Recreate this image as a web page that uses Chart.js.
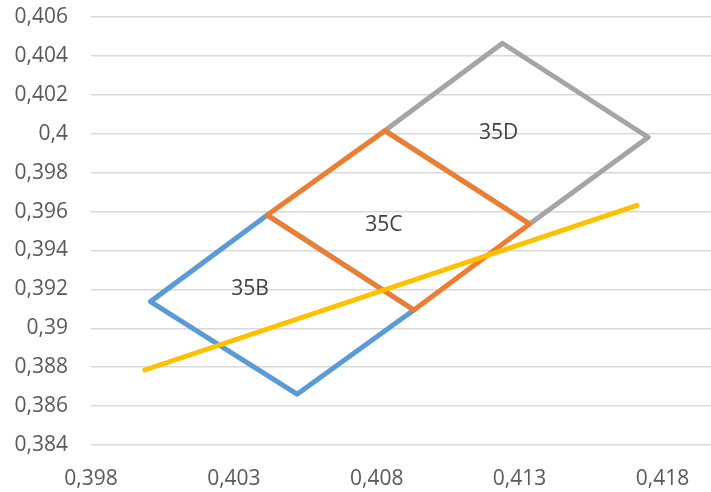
<!DOCTYPE html>
<html>
<head>
<meta charset="utf-8">
<script src="https://cdn.jsdelivr.net/npm/chart.js@4/dist/chart.umd.min.js"></script>
<style>
html,body{margin:0;padding:0;background:#fff;}
#wrap{width:711px;height:492px;position:relative;}
</style>
</head>
<body>
<div id="wrap"><canvas id="c" width="711" height="492"></canvas></div>
<script>
// Data
const seriesNames = ['35B', '35C', '35D', 'Trend'];
const x35B = [0.40417, 0.40008, 0.40521, 0.4093, 0.40417];
const y35B = [0.39582, 0.39137, 0.38661, 0.39094, 0.39582];
const x35C = [0.40417, 0.40829, 0.41335, 0.4093, 0.40417];
const y35C = [0.39582, 0.40016, 0.39536, 0.39094, 0.39582];
const x35D = [0.40829, 0.4124, 0.4175, 0.41335, 0.40829];
const y35D = [0.40016, 0.40465, 0.39982, 0.39536, 0.40016];
const xTrend = [0.39988, 0.41711];
const yTrend = [0.387855, 0.39632];
const labelText = ['35B', '35C', '35D'];
const labelX = [0.40357, 0.40825, 0.41227];
const labelY = [0.39202, 0.39531, 0.40002];
const xTicks = [0.398, 0.403, 0.408, 0.413, 0.418];
const yTicks = [0.384, 0.386, 0.388, 0.39, 0.392, 0.394, 0.396, 0.398, 0.4, 0.402, 0.404, 0.406];

const pts = (xs, ys) => xs.map((x, i) => ({x: x, y: ys[i]}));
const fmt = v => Number(v.toFixed(3)).toString().replace('.', ',');

const labelPlugin = {
  id: 'diamondLabels',
  afterDatasetsDraw(chart) {
    const {ctx, scales} = chart;
    ctx.save();
    ctx.font = '21px "Open Sans"';
    ctx.fillStyle = '#404040';
    ctx.textAlign = 'center';
    ctx.textBaseline = 'middle';
    labelText.forEach((t, i) => {
      ctx.fillText(t, scales.x.getPixelForValue(labelX[i]), scales.y.getPixelForValue(labelY[i]));
    });
    ctx.restore();
  }
};

const lineDs = (label, data, color, order) => ({
  label, data, borderColor: color, backgroundColor: color,
  borderWidth: 5, pointRadius: 0, showLine: true, fill: false,
  borderJoinStyle: 'round', borderCapStyle: 'round', tension: 0, order
});

new Chart(document.getElementById('c'), {
  type: 'scatter',
  data: {
    datasets: [
      lineDs(seriesNames[3], pts(xTrend, yTrend), '#FFC000', 0),
      lineDs(seriesNames[1], pts(x35C, y35C), '#ED7D31', 1),
      lineDs(seriesNames[0], pts(x35B, y35B), '#5B9BD5', 2),
      lineDs(seriesNames[2], pts(x35D, y35D), '#A5A5A5', 3)
    ]
  },
  options: {
    responsive: false,
    animation: false,
    layout: {padding: {top: 0, right: 0, bottom: 0, left: 0}},
    plugins: {legend: {display: false}, tooltip: {enabled: false}},
    scales: {
      x: {
        type: 'linear', min: 0.398, max: 0.4197,
        afterBuildTicks: a => { a.ticks = xTicks.map(v => ({value: v})); },
        afterFit: a => { a.height = 47; a.paddingLeft = 0; a.paddingRight = 0; },
        grid: {display: false, drawTicks: false},
        border: {display: false},
        ticks: {callback: v => fmt(v), font: {family: 'Open Sans', size: 21}, color: '#595959', padding: 21, maxRotation: 0, autoSkip: false}
      },
      y: {
        type: 'linear', min: 0.384, max: 0.406,
        afterBuildTicks: a => { a.ticks = yTicks.map(v => ({value: v})); },
        afterFit: a => { a.width = 91; a.paddingTop = 17; a.paddingBottom = 0; },
        grid: {color: '#D9D9D9', lineWidth: 1.5, drawTicks: false},
        border: {display: false},
        ticks: {callback: v => fmt(v), font: {family: 'Open Sans', size: 21}, color: '#595959', padding: 23, autoSkip: false}
      }
    }
  },
  plugins: [labelPlugin]
});
</script>
</body>
</html>
